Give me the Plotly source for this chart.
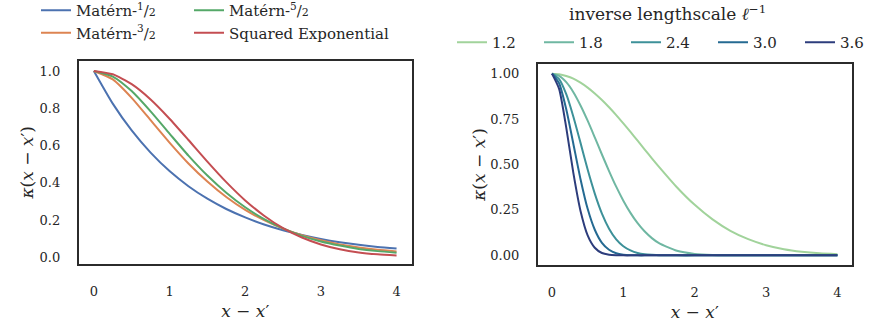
import plotly.graph_objects as go

# ---------------- data ----------------
r_left = [0.0, 0.25, 0.5, 0.75, 1.0, 1.25, 1.5, 1.75, 2.0, 2.25, 2.5, 2.75,
          3.0, 3.25, 3.5, 3.75, 4.0]
matern12 = [1.0, 0.825, 0.681, 0.562, 0.463, 0.382, 0.315, 0.260, 0.215, 0.177,
            0.146, 0.121, 0.0995, 0.082, 0.0677, 0.0559, 0.048]
matern32 = [1.0, 0.955, 0.856, 0.736, 0.616, 0.504, 0.407, 0.324, 0.255, 0.200,
            0.155, 0.120, 0.092, 0.070, 0.054, 0.041, 0.032]
matern52 = [1.0, 0.970, 0.892, 0.783, 0.664, 0.546, 0.439, 0.347, 0.269, 0.206,
            0.156, 0.116, 0.086, 0.064, 0.046, 0.034, 0.025]
sq_exp = [1.0, 0.982, 0.929, 0.847, 0.744, 0.630, 0.514, 0.404, 0.306, 0.224,
          0.157, 0.107, 0.070, 0.044, 0.027, 0.017, 0.011]
left_names = ["Matérn-<sup>1</sup>/<span style='font-size:11px'>2</span>",
              "Matérn-<sup>3</sup>/<span style='font-size:11px'>2</span>",
              "Matérn-<sup>5</sup>/<span style='font-size:11px'>2</span>",
              "Squared Exponential"]
left_colors = ["#4C72B0", "#DD8452", "#55A868", "#C44E52"]

r_right = [0.0, 0.1, 0.2, 0.3, 0.4, 0.5, 0.6, 0.7, 0.8, 0.9, 1.0, 1.1, 1.2, 1.3,
           1.4, 1.5, 1.75, 2.0, 2.25, 2.5, 2.75, 3.0, 3.25, 3.5, 3.75, 4.0]
inv_ls_labels = ["1.2", "1.8", "2.4", "3.0", "3.6"]
k_12 = [1.0, 0.997, 0.987, 0.972, 0.950, 0.923, 0.891, 0.855, 0.815, 0.772,
        0.726, 0.679, 0.631, 0.582, 0.534, 0.487, 0.375, 0.278, 0.198, 0.135,
        0.089, 0.056, 0.034, 0.020, 0.011, 0.006]
k_18 = [1.0, 0.988, 0.953, 0.898, 0.825, 0.741, 0.649, 0.555, 0.464, 0.378,
        0.301, 0.234, 0.177, 0.131, 0.095, 0.067, 0.025, 0.008, 0.002, 0.0005,
        0.0, 0.0, 0.0, 0.0, 0.0, 0.0]
k_24 = [1.0, 0.970, 0.887, 0.763, 0.619, 0.472, 0.340, 0.230, 0.147, 0.088,
        0.050, 0.027, 0.013, 0.006, 0.003, 0.001, 0.0, 0.0, 0.0, 0.0,
        0.0, 0.0, 0.0, 0.0, 0.0, 0.0]
k_30 = [1.0, 0.947, 0.804, 0.613, 0.419, 0.256, 0.141, 0.069, 0.031, 0.012,
        0.004, 0.001, 0.0, 0.0, 0.0, 0.0, 0.0, 0.0, 0.0, 0.0,
        0.0, 0.0, 0.0, 0.0, 0.0, 0.0]
k_36 = [1.0, 0.916, 0.703, 0.452, 0.244, 0.110, 0.042, 0.013, 0.004, 0.001,
        0.0, 0.0, 0.0, 0.0, 0.0, 0.0, 0.0, 0.0, 0.0, 0.0,
        0.0, 0.0, 0.0, 0.0, 0.0, 0.0]
right_colors = ["#a1d39b", "#6fb7a2", "#3d9199", "#256a92", "#2d3d7c"]

x_ticks = [0, 1, 2, 3, 4]
left_yticks = [0.0, 0.2, 0.4, 0.6, 0.8, 1.0]
right_yticks = [0.0, 0.25, 0.5, 0.75, 1.0]

# ---------------- figure ----------------
FONT = "DejaVu Serif"
TXT = "#262626"
W, H = 874, 327

fig = go.Figure()

left_series = [matern12, matern32, matern52, sq_exp]
left_legends = ["legend", "legend", "legend3", "legend3"]
for name, ys, col, lg in zip(left_names, left_series, left_colors, left_legends):
    fig.add_trace(go.Scatter(x=r_left, y=ys, mode="lines", name=name,
                             line=dict(color=col, width=2, shape="spline", smoothing=0.6),
                             xaxis="x", yaxis="y", legend=lg))

for name, ys, col in zip(inv_ls_labels, [k_12, k_18, k_24, k_30, k_36], right_colors):
    fig.add_trace(go.Scatter(x=r_right, y=ys, mode="lines", name=name,
                             line=dict(color=col, width=2, shape="spline", smoothing=0.6),
                             xaxis="x2", yaxis="y2", legend="legend2"))

def px_x(p):
    return p / W

def px_y(p):
    return 1 - p / H

axis_common = dict(showline=True, mirror=True, linecolor="#2b2b2b", linewidth=1.8,
                   showgrid=False, zeroline=False, ticks="",
                   tickfont=dict(family=FONT, size=13, color=TXT))

xt = "<i>x</i> − <i>x</i>′"
yt = "<i>κ</i>(<i>x</i> − <i>x</i>′)"
title_font = dict(family=FONT, size=17, color=TXT)
leg_font = dict(family=FONT, size=15, color=TXT)

fig.update_layout(
    width=W, height=H,
    margin=dict(l=0, r=0, t=0, b=0, autoexpand=False),
    paper_bgcolor="white", plot_bgcolor="white",
    font=dict(family=FONT, size=13, color=TXT),
    xaxis=dict(domain=[px_x(78.7), px_x(411.7)], range=[-0.2, 4.2], anchor="y",
               tickvals=x_ticks, ticklabelstandoff=14,
               title=dict(text=xt, standoff=8, font=title_font),
               **axis_common),
    yaxis=dict(domain=[px_y(264), px_y(60.7)], range=[-0.035, 1.055], anchor="x",
               tickvals=left_yticks, tickformat=".1f", ticklabelstandoff=14,
               title=dict(text=yt, standoff=2, font=title_font),
               **axis_common),
    xaxis2=dict(domain=[px_x(537.7), px_x(851.7)], range=[-0.2, 4.2], anchor="y2",
                tickvals=x_ticks, ticklabelstandoff=14,
                title=dict(text=xt, standoff=8, font=title_font),
                **axis_common),
    yaxis2=dict(domain=[px_y(265), px_y(64)], range=[-0.053, 1.053], anchor="x2",
                tickvals=right_yticks, tickformat=".2f", ticklabelstandoff=14,
                title=dict(text=yt, standoff=0, font=title_font),
                **axis_common),
    legend=dict(x=px_x(36), y=1 + 6 / H, xanchor="left", yanchor="top",
                orientation="v", bgcolor="rgba(0,0,0,0)",
                font=leg_font, tracegroupgap=0),
    legend3=dict(x=px_x(189), y=1 + 6 / H, xanchor="left", yanchor="top",
                 orientation="v", bgcolor="rgba(0,0,0,0)",
                 font=leg_font, tracegroupgap=0),
    legend2=dict(x=px_x(452), y=px_y(26), xanchor="left", yanchor="top",
                 orientation="h", bgcolor="rgba(0,0,0,0)",
                 entrywidth=42, entrywidthmode="pixels",
                 font=leg_font),
    annotations=[dict(text="inverse lengthscale <i>ℓ</i><sup>−1</sup>",
                      x=px_x(667), y=px_y(13), xref="paper", yref="paper",
                      xanchor="center", yanchor="middle", showarrow=False,
                      font=dict(family=FONT, size=17, color=TXT))],
    showlegend=True,
)

fig.write_html("out.html")
